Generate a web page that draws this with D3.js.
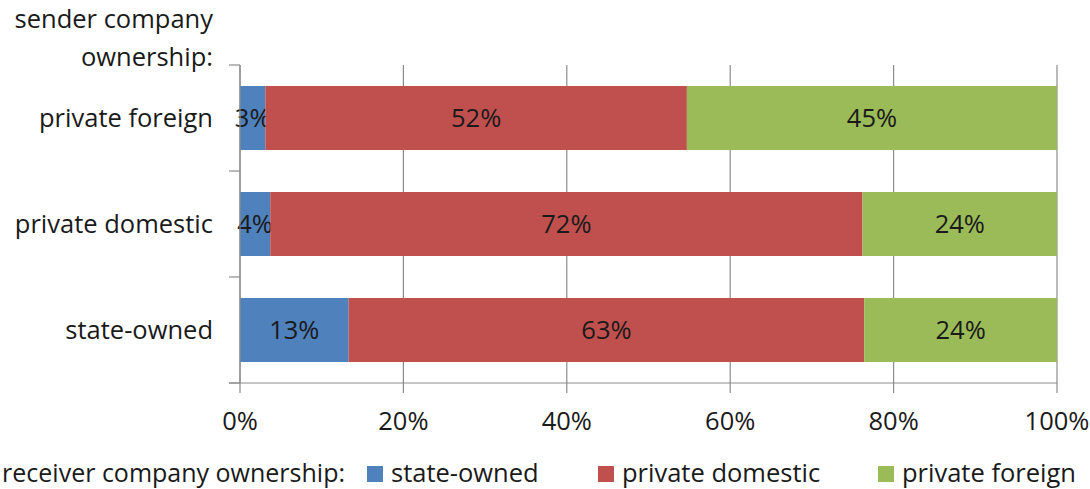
<!DOCTYPE html>
<html>
<head>
<meta charset="utf-8">
<script src="https://cdn.jsdelivr.net/npm/d3@7"></script>
<style>
  body { margin: 0; background: #fff; }
  svg text { font-family: "Open Sans", sans-serif; fill: #1a1a1a; }
</style>
</head>
<body>
<svg id="chart" width="1090" height="489"></svg>
<script>
// sender ownership (rows, top to bottom)
let senders = ["private foreign", "private domestic", "state-owned"];
// receiver ownership (stack order)
let receivers = ["state-owned", "private domestic", "private foreign"];
let stateOwned = [3.1, 3.7, 13.3];
let privateDomestic = [51.6, 72.5, 63.1];
let privateForeign = [45.3, 23.8, 23.6];
let shownLabels = [["3%", "52%", "45%"], ["4%", "72%", "24%"], ["13%", "63%", "24%"]];
let xTicks = [0, 20, 40, 60, 80, 100];
let colors = ["#4f81bd", "#c0504d", "#9bbb59"];

let svg = d3.select("#chart");
let plotLeft = 240, plotRight = 1057, plotTop = 65, plotBottom = 383;
let fs = 25.5;

let x = d3.scaleLinear().domain([0, 100]).range([plotLeft, plotRight]);
let y = d3.scaleBand().domain(senders).range([plotTop, plotBottom])
  .paddingInner(0.396).paddingOuter(0.198);

let rows = senders.map((s, i) => ({
  sender: s,
  "state-owned": stateOwned[i],
  "private domestic": privateDomestic[i],
  "private foreign": privateForeign[i],
  labels: shownLabels[i]
}));
let series = d3.stack().keys(receivers)(rows);

// gridlines (extend below axis as tick marks)
svg.append("g").selectAll("line").data(xTicks).join("line")
  .attr("x1", d => x(d)).attr("x2", d => x(d))
  .attr("y1", plotTop).attr("y2", plotBottom + 10)
  .attr("stroke", "#8c8c8c").attr("stroke-width", 1.2);

// bars
series.forEach((s, k) => {
  let g = svg.append("g");
  g.selectAll("rect").data(s).join("rect")
    .attr("x", d => x(d[0])).attr("width", d => x(d[1]) - x(d[0]))
    .attr("y", d => y(d.data.sender)).attr("height", y.bandwidth())
    .attr("fill", colors[k]);
  g.selectAll("text").data(s).join("text")
    .attr("x", d => (x(d[0]) + x(d[1])) / 2)
    .attr("y", d => y(d.data.sender) + y.bandwidth() / 2)
    .attr("dy", "0.35em").attr("text-anchor", "middle")
    .attr("font-size", fs)
    .text(d => d.data.labels[k]);
});

// axes lines
svg.append("line").attr("x1", plotLeft).attr("x2", plotLeft).attr("y1", plotTop).attr("y2", plotBottom)
  .attr("stroke", "#8c8c8c").attr("stroke-width", 1.2);
svg.append("line").attr("x1", plotLeft - 11).attr("x2", plotRight).attr("y1", plotBottom).attr("y2", plotBottom)
  .attr("stroke", "#8c8c8c").attr("stroke-width", 1.2);
// category ticks between bands
let edges = d3.range(senders.length + 1).map(i => plotTop + i * y.step());
svg.append("g").selectAll("line").data(edges).join("line")
  .attr("x1", plotLeft - 11).attr("x2", plotLeft).attr("y1", d => d).attr("y2", d => d)
  .attr("stroke", "#8c8c8c").attr("stroke-width", 1.2);

// category labels
svg.append("g").selectAll("text").data(senders).join("text")
  .attr("x", 213).attr("y", d => y(d) + y.bandwidth() / 2)
  .attr("dy", "0.35em").attr("text-anchor", "end").attr("font-size", fs)
  .text(d => d);

// axis title (top left)
svg.append("text").attr("x", 213).attr("y", 28).attr("text-anchor", "end")
  .attr("font-size", fs).text("sender company");
svg.append("text").attr("x", 213).attr("y", 66).attr("text-anchor", "end")
  .attr("font-size", fs).text("ownership:");

// x tick labels
svg.append("g").selectAll("text").data(xTicks).join("text")
  .attr("x", d => x(d)).attr("y", 430).attr("text-anchor", "middle")
  .attr("font-size", fs).text(d => d + "%");

// legend
let ly = 482;
svg.append("text").attr("x", 345).attr("y", ly).attr("text-anchor", "end")
  .attr("font-size", 25).text("receiver company ownership:");
let legX = [367, 598, 878];
receivers.forEach((r, k) => {
  svg.append("rect").attr("x", legX[k]).attr("y", ly - 16).attr("width", 16).attr("height", 16)
    .attr("fill", colors[k]);
  svg.append("text").attr("x", legX[k] + 24).attr("y", ly).attr("font-size", fs).text(r);
});
</script>
</body>
</html>
